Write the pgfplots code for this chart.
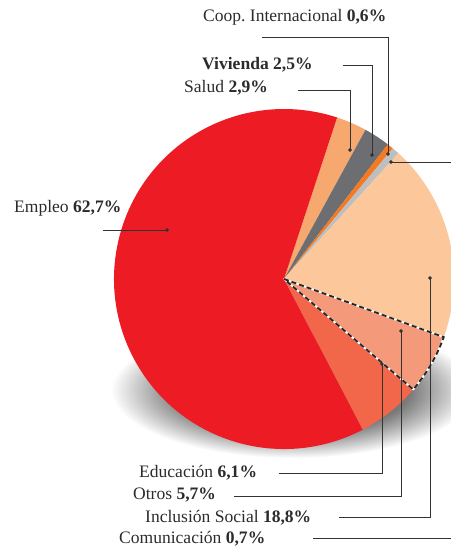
\documentclass[border=0pt]{standalone}
\usepackage{fontspec}
\setmainfont{Liberation Serif}
\usepackage{pgfplots}
\pgfplotsset{compat=1.18}
\frenchspacing
\definecolor{cEmpleo}{HTML}{ED1C24}
\definecolor{cEducacion}{HTML}{F26649}
\definecolor{cOtros}{HTML}{F4997A}
\definecolor{cInclusion}{HTML}{FCC89B}
\definecolor{cComun}{HTML}{BCBEC0}
\definecolor{cCoop}{HTML}{F47920}
\definecolor{cVivienda}{HTML}{6D6E71}
\definecolor{cSalud}{HTML}{F7A86E}
\definecolor{cText}{HTML}{2B2B2B}
\definecolor{cLine}{HTML}{333333}
\pgfdeclareradialshading{pieshadow}{\pgfpointorigin}{color(0bp)=(black!70); color(16bp)=(black!52); color(25bp)=(white); color(50bp)=(white)}
\tikzset{
  lab/.style={anchor=base west, text=cText, inner sep=0pt, font=\fontsize{17.6}{20}\selectfont},
  leader/.style={cLine, line width=0.9bp, mark=none},
}
% data (percent)
\def\vSalud{2.9}
\def\vVivienda{2.5}
\def\vCoop{0.6}
\def\vComun{0.7}
\def\vInclusion{18.8}
\def\vOtros{5.7}
\def\vEducacion{6.1}
\def\vEmpleo{62.7}
\newcommand\slice[3]{\fill[#3] (axis cs:284,279) -- ++(#1:170bp) arc[start angle=#1, end angle=#2, radius=170bp] -- cycle;}
\begin{document}
\begin{tikzpicture}
\pgfmathsetmacro\aA{71.8}
\pgfmathsetmacro\aB{\aA-3.6*\vSalud}
\pgfmathsetmacro\aC{\aB-3.6*\vVivienda}
\pgfmathsetmacro\aD{\aC-3.6*\vCoop}
\pgfmathsetmacro\aE{\aD-3.6*\vComun}
\pgfmathsetmacro\aF{\aE-3.6*\vInclusion}
\pgfmathsetmacro\aG{\aF-3.6*\vOtros}
\pgfmathsetmacro\aH{\aG-3.6*\vEducacion}
\pgfmathsetmacro\aI{\aH-3.6*\vEmpleo}
\begin{axis}[
  width=451bp, height=549bp, scale only axis,
  xmin=0, xmax=451, ymin=0, ymax=549, y dir=reverse,
  hide axis, clip mode=global,
]
% shadow
\shade[shading=pieshadow] (axis cs:293,390) ellipse [x radius=182bp, y radius=68bp];
% slices
\slice{\aA}{\aB}{cSalud}
\slice{\aB}{\aC}{cVivienda}
\slice{\aC}{\aD}{cCoop}
\slice{\aD}{\aE}{cComun}
\slice{\aE}{\aF}{cInclusion}
\slice{\aF}{\aG}{cOtros}
\slice{\aG}{\aH}{cEducacion}
\slice{\aH}{\aI}{cEmpleo}
% dashed outline of Otros
\draw[white, line width=1.8bp, line join=round] (axis cs:284,279) -- ++(\aF:170bp) arc[start angle=\aF, end angle=\aG, radius=170bp] -- cycle;
\draw[black!85, line width=1.8bp, dash pattern=on 5bp off 3bp] (axis cs:284,279) -- ++(\aF:170bp) arc[start angle=\aF, end angle=\aG, radius=170bp] -- cycle;
% leader lines
\addplot[leader] coordinates {(262,37) (388,37) (388,154)};
\addplot[leader] coordinates {(343,65) (372,65) (372,155)};
\addplot[leader] coordinates {(298,90) (350,90) (350,150)};
\addplot[leader] coordinates {(391,162) (451,162)};
\addplot[leader] coordinates {(103,230) (167,230)};
\addplot[leader] coordinates {(279,473) (382,473) (382,364)};
\addplot[leader] coordinates {(234,496) (401,496) (401,331)};
\addplot[leader] coordinates {(339,517) (430,517) (430,278)};
\addplot[leader] coordinates {(313,538) (451,538)};
\addplot[only marks, mark=*, mark size=1.6bp, cLine] coordinates {(388,154) (372,155) (350,150) (391,162) (167,230) (382,364) (401,331) (430,278)};
% labels
\node[lab] at (axis cs:203,22) {Coop. Internacional \textbf{0,6\%}};
\node[lab] at (axis cs:202,70) {\textbf{Vivienda 2,5\%}};
\node[lab] at (axis cs:184,93) {Salud \textbf{2,9\%}};
\node[lab] at (axis cs:14,212) {Empleo \textbf{62,7\%}};
\node[lab] at (axis cs:139,477) {Educación \textbf{6,1\%}};
\node[lab] at (axis cs:133,499) {Otros \textbf{5,7\%}};
\node[lab] at (axis cs:145,522) {Inclusión Social \textbf{18,8\%}};
\node[lab] at (axis cs:119,543) {Comunicación \textbf{0,7\%}};
\end{axis}
\pgfresetboundingbox
\path[use as bounding box] (current axis.south west) rectangle (current axis.north east);
\end{tikzpicture}
\end{document}
